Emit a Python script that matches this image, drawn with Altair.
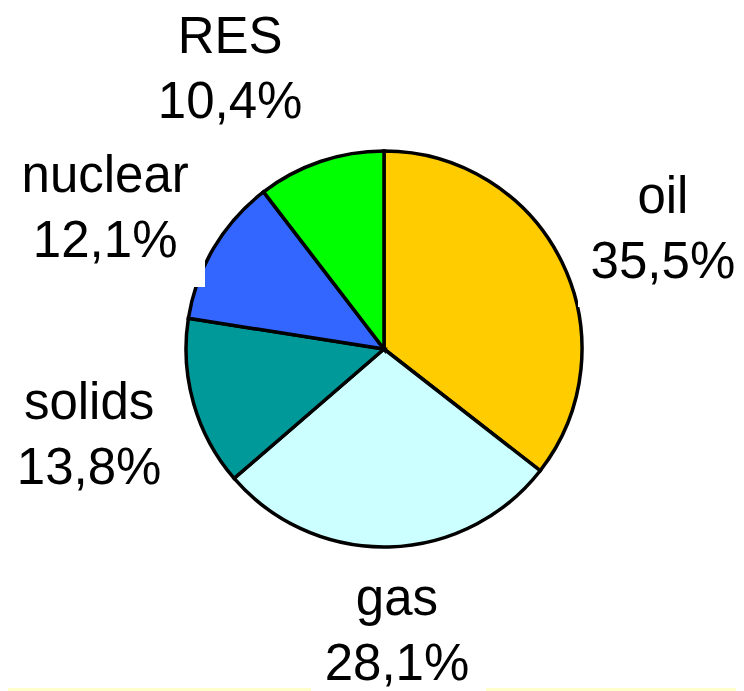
import math
import altair as alt
import pandas as pd

# ---- data ----
categories = ["oil", "gas", "solids", "nuclear", "RES"]
shares = [35.5, 28.1, 13.8, 12.1, 10.4]
colors = ["#FFCC00", "#CCFFFF", "#009999", "#3366FF", "#00FF00"]

# ---- layout (not data) ----
CX, CY = 376, 341          # pie centre inside the plot area
R = 198                    # pie radius
TEXT_SHIFT = -30           # vertical correction for the two-line labels
# label placement: angle nudge from slice middle (deg), distance from centre (px)
label_layout = {
    "oil": (2.6, 304),
    "gas": (-1.2, 281),
    "solids": (-0.2, 307),
    "nuclear": (-3.7, 313),
    "RES": (-10.0, 320),
}

total = sum(shares)
rows = []
cum = 0.0
for i, (c, v) in enumerate(zip(categories, shares)):
    mid = (cum + v / 2) / total * 2 * math.pi
    cum += v
    dth, rr = label_layout[c]
    rows.append({
        "cat": c,
        "value": v,
        "order": i,
        "label": [c, f"{v:.1f}".replace(".", ",") + "%"],
        "lt": mid + math.radians(dth),
        "lr": rr,
    })
df = pd.DataFrame(rows)

base = alt.Chart(df)

pie = base.mark_arc(outerRadius=R, stroke="black", strokeWidth=3.5).encode(
    theta=alt.Theta("value:Q", stack=True),
    color=alt.Color("cat:N", scale=alt.Scale(domain=categories, range=colors), legend=None),
    order=alt.Order("order:Q"),
    x=alt.value(CX),
    y=alt.value(CY),
)

# white label backgrounds that clip the pie edge (as in the original slide)
deco = pd.DataFrame({"k": [0]})
box_nuclear = alt.Chart(deco).mark_rect(color="white").encode(
    x=alt.value(10), x2=alt.value(197), y=alt.value(150), y2=alt.value(279)
)
box_oil = alt.Chart(deco).mark_rect(color="white").encode(
    x=alt.value(570), x2=alt.value(728), y=alt.value(160), y2=alt.value(299)
)
strip_left = alt.Chart(deco).mark_rect(color="#FFFFCC").encode(
    x=alt.value(0), x2=alt.value(303), y=alt.value(680), y2=alt.value(683)
)
strip_right = alt.Chart(deco).mark_rect(color="#FFFFCC").encode(
    x=alt.value(478), x2=alt.value(728), y=alt.value(680), y2=alt.value(683)
)

text = base.mark_text(
    font="Liberation Sans", fontSize=51, lineHeight=65,
    baseline="middle", align="center", color="black",
).encode(
    text=alt.Text("label"),
    theta=alt.Theta("lt:Q", scale=None, stack=False),
    radius=alt.Radius("lr:Q", scale=None),
    x=alt.value(CX),
    y=alt.value(CY + TEXT_SHIFT),
)

chart = (
    alt.layer(pie, box_nuclear, box_oil, strip_left, strip_right, text)
    .resolve_scale(theta="independent", radius="independent")
    .properties(width=728, height=683, padding=0, autosize="none", background="white")
    .configure_view(stroke=None)
)

chart.save("out.html", embed_options={"renderer": "svg", "actions": False})
